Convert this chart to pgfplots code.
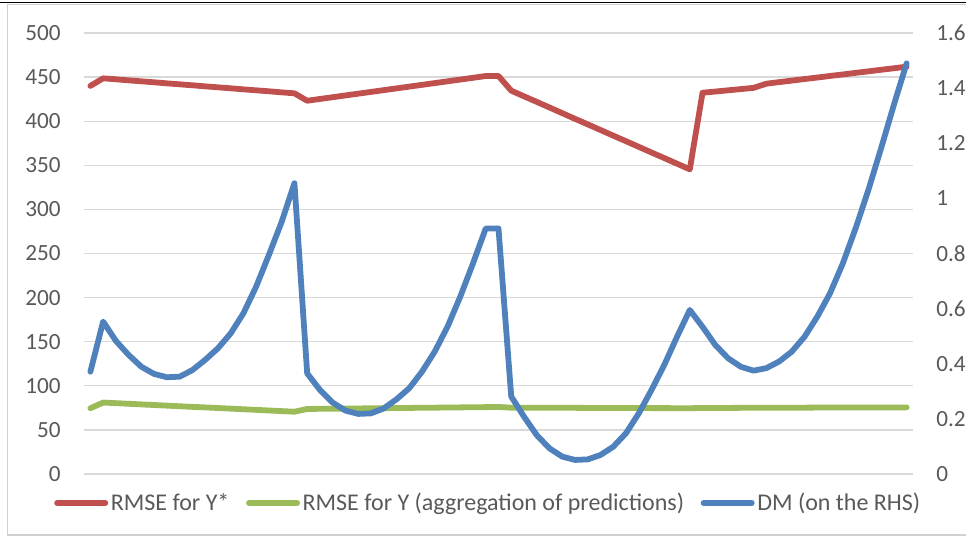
\documentclass[border=0pt]{standalone}
\usepackage{fontspec}
\setmainfont{Carlito}
\usepackage{pgfplots}
\usepackage{pgfplotstable}
\pgfplotsset{compat=1.18}

\definecolor{rmsestar}{HTML}{C0504D}
\definecolor{rmsey}{HTML}{9BBB59}
\definecolor{dmblue}{HTML}{4F81BD}
\definecolor{gridgray}{HTML}{D9D9D9}
\definecolor{labelgray}{HTML}{595959}
\definecolor{framegray}{HTML}{D0D0D0}

\newcommand{\tickfont}{\fontsize{11.6}{13}\selectfont}
\newcommand{\legfont}{\fontsize{12}{14}\selectfont}

% k: observation index, R: RMSE for Y*, G: RMSE for Y, B: DM statistic
\pgfplotstableread{
k  R      G     B
0  440.0  74.5  0.371
1  448.6  81.0  0.553
2  447.5  80.3  0.483
3  446.3  79.6  0.432
4  445.2  78.9  0.389
5  444.1  78.2  0.363
6  442.9  77.5  0.351
7  441.8  76.8  0.353
8  440.7  76.1  0.377
9  439.5  75.5  0.414
10 438.4  74.8  0.456
11 437.3  74.1  0.510
12 436.1  73.4  0.583
13 435.0  72.7  0.680
14 433.9  72.0  0.795
15 432.7  71.3  0.915
16 431.6  70.6  1.055
17 423.2  73.7  0.365
18 425.2  73.9  0.305
19 427.2  74.0  0.259
20 429.2  74.2  0.230
21 431.2  74.3  0.218
22 433.2  74.5  0.220
23 435.2  74.6  0.238
24 437.2  74.8  0.271
25 439.2  74.9  0.311
26 441.2  75.1  0.371
27 443.2  75.2  0.444
28 445.2  75.4  0.534
29 447.2  75.5  0.643
30 449.2  75.7  0.764
31 451.2  75.8  0.891
32 451.2  76.0  0.891
33 434.6  75.2  0.281
34 428.2  75.1  0.208
35 421.9  75.1  0.141
36 415.5  75.0  0.093
37 409.1  75.0  0.063
38 402.7  75.0  0.051
39 396.4  74.9  0.053
40 390.0  74.9  0.069
41 383.6  74.8  0.099
42 377.3  74.8  0.148
43 370.9  74.8  0.220
44 364.5  74.7  0.305
45 358.2  74.7  0.396
46 351.8  74.6  0.498
47 345.4  74.6  0.595
48 432.3  74.8  0.534
49 433.6  74.9  0.468
50 435.0  74.9  0.420
51 436.4  75.0  0.389
52 437.8  75.0  0.375
53 442.5  75.1  0.384
54 444.3  75.1  0.408
55 446.0  75.2  0.444
56 447.8  75.2  0.498
57 449.5  75.3  0.571
58 451.3  75.3  0.656
59 453.0  75.4  0.764
60 454.8  75.4  0.891
61 456.5  75.4  1.030
62 458.3  75.5  1.182
63 460.0  75.5  1.339
64 461.8  75.5  1.490
}\forecast

\pgfplotsset{
  panel/.style={
    at={(42pt,35.5pt)}, anchor=south west,
    scale only axis, width=414.5pt, height=220.5pt,
    xmin=-0.5, xmax=64.5,
    axis x line=none,
    y axis line style={draw=none},
    major tick length=0pt,
    /pgf/number format/assume math mode=true,
    clip=false,
  },
  series/.style={line width=2.9pt, line cap=round, line join=round},
}

\begin{document}
\begin{tikzpicture}
\path[use as bounding box] (0pt,0pt) rectangle (483pt,272.5pt);

% left axis: RMSE
\begin{axis}[panel,
  axis y line*=left,
  ymin=0, ymax=500,
  ytick={0,50,100,150,200,250,300,350,400,450,500},
  ymajorgrids, grid style={gridgray, line width=0.65pt},
  yticklabel style={anchor=east, inner sep=0pt, xshift=-11.5pt,
    text=labelgray, font=\tickfont},
]
\addplot[series, rmsestar] table[x=k, y=R] {\forecast};
\addplot[series, rmsey] table[x=k, y=G] {\forecast};
\end{axis}

% right axis: DM statistic
\begin{axis}[panel,
  axis y line*=right,
  ymin=0, ymax=1.6,
  ytick={0,0.2,0.4,0.6,0.8,1,1.2,1.4,1.6},
  yticklabel style={anchor=west, inner sep=0pt, xshift=11.5pt,
    text=labelgray, font=\tickfont},
  legend columns=3,
  legend style={at={(0.488,-0.0658)}, anchor=center, draw=none, fill=none,
    font=\legfont, text=labelgray, inner sep=0pt,
    nodes={inner sep=1.3pt},
    /tikz/every even column/.append style={column sep=7pt}},
  legend image code/.code={\draw[#1] (0pt,0pt) -- (24.1pt,0pt);},
]
\addlegendimage{series, rmsestar}
\addlegendentry{RMSE for Y*}
\addlegendimage{series, rmsey}
\addlegendentry{RMSE for Y (aggregation of predictions)}
\addplot[series, dmblue] table[x=k, y=B] {\forecast};
\addlegendentry{DM (on the RHS)}
\end{axis}

% chart frame
\draw[framegray, line width=0.7pt] (490pt,5pt) -- (3.65pt,5pt) -- (3.65pt,270.15pt) -- (490pt,270.15pt);
\draw[black, line width=0.7pt] (0pt,271.2pt) -- (483pt,271.2pt);
\end{tikzpicture}
\end{document}
